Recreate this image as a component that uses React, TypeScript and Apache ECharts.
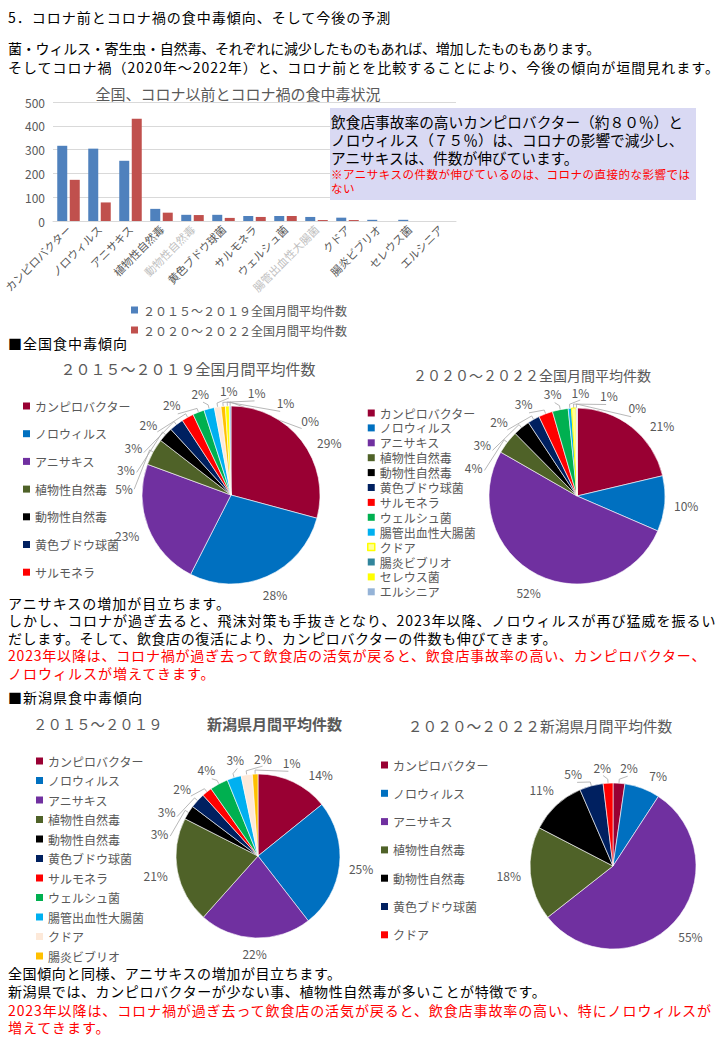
import React, { useEffect, useRef } from 'react';
import * as echarts from 'echarts';

const FONT = '"Noto Sans CJK JP", "Noto Sans", sans-serif';

// ---------- data ----------
const categories = [
  'カンピロバクター', 'ノロウィルス', 'アニサキス', '植物性自然毒', '動物性自然毒',
  '黄色ブドウ球菌', 'サルモネラ', 'ウェルシュ菌', '腸管出血性大腸菌', 'クドア',
  '腸炎ビブリオ', 'セレウス菌', 'エルシニア',
];
const seriesNames = ['２０１５～２０１９全国月間平均件数', '２０２０～２０２２全国月間平均件数'];
const nationalBar2015 = [316, 304, 253, 51, 26, 26, 21, 21, 17, 14, 5, 5, 0];
const nationalBar2020 = [173, 78, 430, 35, 25, 13, 17, 21, 4, 4, 0, 0, 0];
const yTicks = { min: 0, max: 500, interval: 100 };

const nationalShare2015 = [29.2, 28.3, 23.1, 4.9, 2.7, 2.6, 2.2, 2.1, 1.9, 1.2, 0.8, 0.7, 0.3];
const nationalShare2020 = [21.3, 10.2, 51.8, 4.3, 3.1, 2.2, 2.6, 2.9, 0.6, 0.8, 0.2, 0, 0];
const niigataCats2015 = categories.slice(0, 11);
const niigataShare2015 = [14.2, 25.3, 22.1, 20.9, 2.8, 3.0, 2.0, 3.6, 2.8, 2.2, 1.1];
const niigataCats2020 = ['カンピロバクター', 'ノロウィルス', 'アニサキス', '植物性自然毒', '動物性自然毒', '黄色ブドウ球菌', 'クドア'];
const niigataShare2020 = [2.3, 6.9, 55.2, 18.2, 10.9, 4.6, 1.9];

// ---------- styles ----------
const baseColors: Record<string, string> = {
  'カンピロバクター': '#990033',
  'ノロウィルス': '#0070C0',
  'アニサキス': '#7030A0',
  '植物性自然毒': '#4F6228',
  '動物性自然毒': '#000000',
  '黄色ブドウ球菌': '#002060',
  'サルモネラ': '#FF0000',
  'ウェルシュ菌': '#00B050',
  '腸管出血性大腸菌': '#00B0F0',
  'クドア': '#FDE9D9',
  '腸炎ビブリオ': '#FFC000',
  'セレウス菌': '#FFFF00',
  'エルシニア': '#8DB4E2',
};
const colors2020National: Record<string, string> = {
  ...baseColors,
  'クドア': '#FFFF99',
  '腸炎ビブリオ': '#31859C',
  'エルシニア': '#95B3D7',
};
const colors2020Niigata: Record<string, string> = { ...baseColors, 'クドア': '#FF0000' };
const mutedLabels = ['動物性自然毒', '腸管出血性大腸菌'];
const GRAY = '#595959';

const paragraphLines = [
  { text: '5．コロナ前とコロナ禍の食中毒傾向、そして今後の予測', y: 17, red: false, ls: 0 },
  { text: '菌・ウィルス・寄生虫・自然毒、それぞれに減少したものもあれば、増加したものもあります。', y: 48, red: false, ls: -1.2 },
  { text: 'そしてコロナ禍（2020年～2022年）と、コロナ前とを比較することにより、今後の傾向が垣間見れます。', y: 67, red: false, ls: 0 },
  { text: '■全国食中毒傾向', y: 343, red: false, ls: 0 },
  { text: 'アニサキスの増加が目立ちます。', y: 603, red: false, ls: 0 },
  { text: 'しかし、コロナが過ぎ去ると、飛沫対策も手抜きとなり、2023年以降、ノロウィルスが再び猛威を振るい', y: 620, red: false, ls: 0 },
  { text: 'だします。そして、飲食店の復活により、カンピロバクターの件数も伸びてきます。', y: 638, red: false, ls: -0.4 },
  { text: '2023年以降は、コロナ禍が過ぎ去って飲食店の活気が戻ると、飲食店事故率の高い、カンピロバクター、', y: 655, red: true, ls: -0.2 },
  { text: 'ノロウィルスが増えてきます。', y: 673, red: true, ls: 0 },
  { text: '■新潟県食中毒傾向', y: 697, red: false, ls: 0 },
  { text: '全国傾向と同様、アニサキスの増加が目立ちます。', y: 973, red: false, ls: -0.4 },
  { text: '新潟県では、カンピロバクターが少ない事、植物性自然毒が多いことが特徴です。', y: 991, red: false, ls: -0.4 },
  { text: '2023年以降は、コロナ禍が過ぎ去って飲食店の活気が戻ると、飲食店事故率の高い、特にノロウィルスが', y: 1010, red: true, ls: -0.1 },
  { text: '増えてきます。', y: 1027, red: true, ls: 0 },
];

const boxLines = [
  { text: '飲食店事故率の高いカンピロバクター（約８０％）と', y: 121, red: false },
  { text: 'ノロウィルス（７５％）は、コロナの影響で減少し、', y: 139, red: false },
  { text: 'アニサキスは、件数が伸びています。', y: 157, red: false },
  { text: '※アニサキスの件数が伸びているのは、コロナの直接的な影響では', y: 174, red: true },
  { text: 'ない', y: 188, red: true },
];

// ---------- label layout (spreads small-slice labels around the rim) ----------
function labelAngles(values: number[], radius: number) {
  const total = values.reduce((s, v) => s + v, 0);
  let cum = 0;
  const mids = values.map((v) => {
    const m = ((cum + v / 2) / total) * Math.PI * 2;
    cum += v;
    return m;
  });
  const idx = values.map((_, i) => i).filter((i) => values[i] > 0);
  const a0 = idx.map((i) => mids[i]);
  const n = a0.length;
  let maxGap = -1;
  let cut = 0;
  for (let k = 0; k < n; k++) {
    const g = k < n - 1 ? a0[k + 1] - a0[k] : a0[0] + Math.PI * 2 - a0[n - 1];
    if (g > maxGap) { maxGap = g; cut = k; }
  }
  const order: number[] = [];
  const a: number[] = [];
  for (let j = 1; j <= n; j++) {
    const k = (cut + j) % n;
    order.push(k);
    a.push(a0[k] + (k <= cut ? Math.PI * 2 : 0));
  }
  const R = radius + 18;
  const need = (ang: number) => (Math.abs(Math.sin(ang)) * 15 + Math.abs(Math.cos(ang)) * 27) / R;
  for (let it = 0; it < 400; it++) {
    let moved = false;
    for (let k = 0; k < n - 1; k++) {
      const d = a[k + 1] - a[k];
      const req = need((a[k] + a[k + 1]) / 2);
      if (d < req - 1e-6) {
        const s = (req - d) / 2;
        a[k] -= s;
        a[k + 1] += s;
        moved = true;
      }
    }
    if (!moved) break;
  }
  const spread = mids.slice();
  order.forEach((k, j) => { spread[idx[k]] = a[j]; });
  return { mids, spread, total };
}

function makeLabelLayout(center: number[], r: number, values: number[]) {
  const { mids, spread } = labelAngles(values, r);
  const [cx, cy] = center;
  return (params: any) => {
    const i = params.dataIndex;
    if (values[i] === 0) return {};
    const ang = spread[i];
    const mid = mids[i];
    const w = params.labelRect ? params.labelRect.width : 22;
    const h = params.labelRect ? params.labelRect.height : 14;
    const sx = Math.sin(ang);
    const sy = -Math.cos(ang);
    const ext = Math.abs(sx) * w / 2 + Math.abs(sy) * h / 2;
    const d = r + 9 + ext;
    return {
      x: cx + d * sx,
      y: cy + d * sy,
      align: 'center',
      verticalAlign: 'middle',
      labelLinePoints: [
        [cx + r * Math.sin(mid), cy - r * Math.cos(mid)],
        [cx + (r + 4) * Math.sin(mid), cy - (r + 4) * Math.cos(mid)],
        [cx + (r + 8) * sx, cy + (r + 8) * sy],
      ],
    };
  };
}

function pieData(names: string[], values: number[], palette: Record<string, string>, kudoaBorder = false) {
  const total = values.reduce((s, v) => s + v, 0);
  return names.map((name, i) => {
    const share = (values[i] / total) * 100;
    const item: any = {
      name,
      value: values[i],
      itemStyle: { color: palette[name] },
      labelLine: { show: share < 6 },
    };
    if (values[i] === 0) {
      item.label = { show: false };
      item.labelLine = { show: false };
    }
    if (kudoaBorder && name === 'クドア') {
      item.itemStyle.borderColor = '#FFFF00';
      item.itemStyle.borderWidth = 1;
    }
    return item;
  });
}

function pieSeries(center: number[], radius: number, names: string[], values: number[], palette: Record<string, string>, kudoaBorder = false) {
  return {
    type: 'pie',
    center,
    radius,
    startAngle: 90,
    clockwise: true,
    percentPrecision: 0,
    avoidLabelOverlap: false,
    data: pieData(names, values, palette, kudoaBorder),
    itemStyle: { borderColor: '#ffffff', borderWidth: 0.6 },
    label: {
      show: true,
      position: 'outside',
      formatter: '{d}%',
      fontSize: 12,
      color: GRAY,
      fontFamily: FONT,
    },
    labelLine: { show: true, length: 6, length2: 8, lineStyle: { color: '#A6A6A6', width: 0.8 } },
    labelLayout: makeLabelLayout(center, radius, values),
    emphasis: { disabled: true },
  };
}

function pieLegend(names: string[], palette: Record<string, string>, left: number, top: number, gap: number, kudoaBorder = false) {
  return {
    orient: 'vertical',
    left,
    top,
    icon: 'rect',
    itemWidth: 7,
    itemHeight: 7,
    itemGap: gap,
    selectedMode: false,
    textStyle: { fontSize: 12, color: GRAY, fontFamily: FONT, lineHeight: 14 },
    data: names.map((n) => ({
      name: n,
      itemStyle: {
        color: palette[n],
        borderColor: kudoaBorder && n === 'クドア' ? '#FFFF00' : palette[n],
        borderWidth: kudoaBorder && n === 'クドア' ? 1.5 : 0,
      },
    })),
  };
}

function gText(text: string, x: number, y: number, size: number, align = 'center', weight = 'normal') {
  return {
    type: 'text',
    x,
    y,
    silent: true,
    style: {
      text,
      fill: GRAY,
      fontSize: size,
      fontFamily: FONT,
      fontWeight: weight,
      align,
      verticalAlign: 'middle',
    },
  };
}

export default function App() {
  const ref = useRef<HTMLDivElement>(null);

  useEffect(() => {
    if (!ref.current) return;
    const chart = echarts.init(ref.current, undefined, { renderer: 'svg' });
    const option: any = {
      animation: false,
      textStyle: { fontFamily: FONT },
      grid: { left: 53, right: 264, top: 102, bottom: 819, containLabel: false },
      xAxis: {
        type: 'category',
        data: categories,
        axisTick: { show: false },
        axisLine: { lineStyle: { color: '#D9D9D9' } },
        axisLabel: {
          interval: 0,
          rotate: 45,
          fontSize: 11,
          margin: 6,
          fontFamily: FONT,
          color: (v: string) => (mutedLabels.includes(v) ? '#BFBFBF' : GRAY),
        },
      },
      yAxis: {
        type: 'value',
        min: yTicks.min,
        max: yTicks.max,
        interval: yTicks.interval,
        axisLine: { show: false },
        axisTick: { show: false },
        axisLabel: { fontSize: 12, color: GRAY, margin: 8 },
        splitLine: { lineStyle: { color: '#D9D9D9' } },
      },
      legend: [
        {
          orient: 'vertical',
          left: 126,
          top: 298,
          icon: 'rect',
          itemWidth: 7,
          itemHeight: 7,
          itemGap: 6,
          selectedMode: false,
          textStyle: { fontSize: 12, color: GRAY, fontFamily: FONT, lineHeight: 14 },
          data: [
            { name: seriesNames[0], itemStyle: { color: '#4F81BD' } },
            { name: seriesNames[1], itemStyle: { color: '#C0504D' } },
          ],
        },
        pieLegend(categories.slice(0, 7), baseColors, 18, 394, 13.7),
        pieLegend(categories, colors2020National, 362, 401, 0.9, true),
        pieLegend(niigataCats2015, baseColors, 31, 749, 5.5),
        pieLegend(niigataCats2020, colors2020Niigata, 376, 753, 14.3),
      ],
      series: [
        {
          type: 'bar',
          name: seriesNames[0],
          data: nationalBar2015,
          barWidth: 10,
          barGap: '25%',
          itemStyle: { color: '#4F81BD' },
          emphasis: { disabled: true },
        },
        {
          type: 'bar',
          name: seriesNames[1],
          data: nationalBar2020,
          barWidth: 10,
          barGap: '25%',
          itemStyle: { color: '#C0504D' },
          emphasis: { disabled: true },
        },
        pieSeries([231, 495], 89, categories, nationalShare2015, baseColors),
        pieSeries([577, 496], 88, categories, nationalShare2020, colors2020National, true),
        pieSeries([258, 856], 82, niigataCats2015, niigataShare2015, baseColors),
        pieSeries([613, 866], 83, niigataCats2020, niigataShare2020, colors2020Niigata),
      ],
      graphic: [
        gText('全国、コロナ以前とコロナ禍の食中毒状況', 238, 93, 15),
        gText('２０１５～２０１９全国月間平均件数', 188, 368, 15),
        gText('２０２０～２０２２全国月間平均件数', 532, 375, 14),
        gText('２０１５～２０１９', 33, 723, 14.4, 'left'),
        gText('新潟県月間平均件数', 207, 723, 15, 'left', 'bold'),
        gText('２０２０～２０２２新潟県月間平均件数', 540, 725, 14.7),
      ],
    };
    chart.setOption(option);
    return () => chart.dispose();
  }, []);

  return (
    <div style={{ position: 'absolute', left: 0, top: 0, width: 720, height: 1040, background: '#ffffff', fontFamily: FONT, overflow: 'hidden' }}>
      <div ref={ref} style={{ position: 'absolute', left: 0, top: 0, width: 720, height: 1040 }} />
      <div style={{ position: 'absolute', left: 330, top: 108, width: 366, height: 92, background: '#D9D9F3' }} />
      {boxLines.map((l, i) => {
        const lh = l.red ? 13 : 17;
        return (
          <div
            key={'b' + i}
            style={{
              position: 'absolute',
              left: 331,
              top: l.y - lh / 2,
              height: lh,
              lineHeight: lh + 'px',
              fontSize: l.red ? 11.5 : 14.7,
              letterSpacing: l.red ? '0.5px' : '0px',
              color: l.red ? '#FF0000' : '#000000',
              whiteSpace: 'nowrap',
            }}
          >
            {l.text}
          </div>
        );
      })}
      {paragraphLines.map((l, i) => (
        <div
          key={'p' + i}
          style={{
            position: 'absolute',
            left: 8,
            top: l.y - 8,
            height: 16,
            lineHeight: '16px',
            fontSize: 14,
            letterSpacing: l.ls + 1 + 'px',
            color: l.red ? '#FF0000' : '#000000',
            whiteSpace: 'nowrap',
          }}
        >
          {l.text}
        </div>
      ))}
    </div>
  );
}
